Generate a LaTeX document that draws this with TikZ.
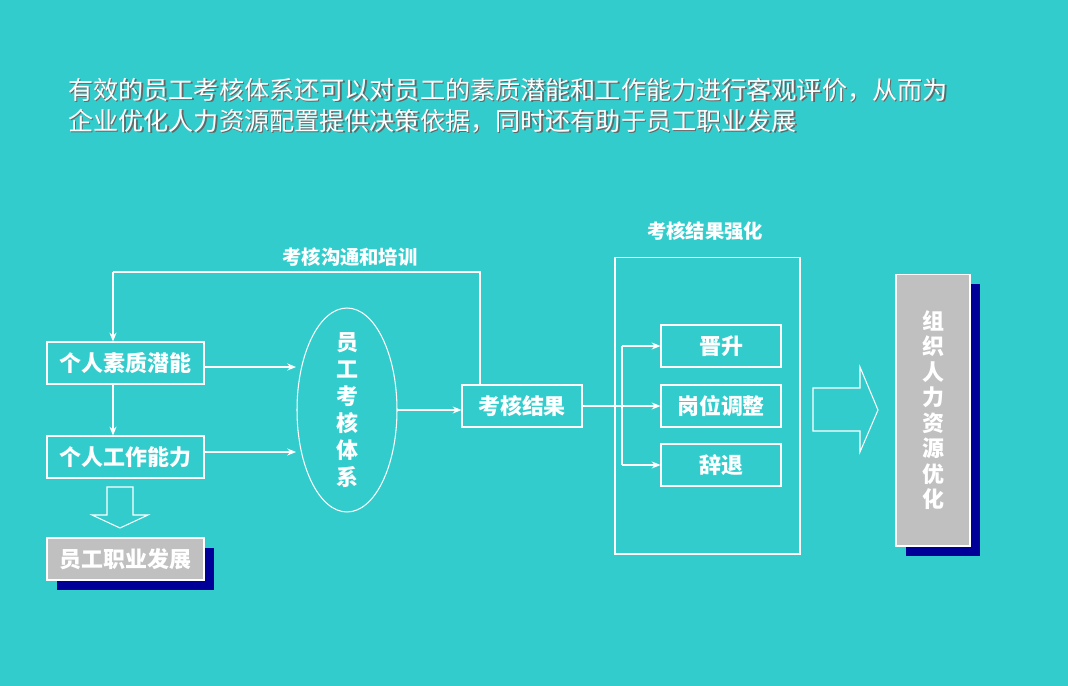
\documentclass[tikz,border=0pt]{standalone}
\usepackage{fontspec}
\usetikzlibrary{shapes.geometric,arrows.meta}
\newfontfamily\cjk{Noto Sans CJK SC}
\definecolor{bg}{HTML}{33CCCC}
\definecolor{shad}{HTML}{000099}
\definecolor{gbox}{HTML}{C0C0C0}
\begin{document}
\begin{tikzpicture}[x=0.02cm,y=-0.02cm,
  wbox/.style={draw=white,line width=0.6pt,minimum height=0.84cm,inner sep=0pt,text=white,font=\cjk\bfseries\fontsize{12.5}{15}\selectfont},
  arr/.style={draw=white,line width=0.6pt,-{Stealth[length=5pt,width=4pt]}},
  ln/.style={draw=white,line width=0.6pt},
  ttl/.style={anchor=west,inner sep=0pt,font=\cjk\fontsize{14.3}{17}\selectfont}]
\fill[bg] (0,0) rectangle (1068,686);
\useasboundingbox (0,0) rectangle (1068,686);
% title
\node[ttl,text=black!60] at (69.5,91.5) {有效的员工考核体系还可以对员工的素质潜能和工作能力进行客观评价，从而为};
\node[ttl,text=black!60] at (69.5,122.5) {企业优化人力资源配置提供决策依据，同时还有助于员工职业发展};
\node[ttl,text=white] (t1) at (68,90) {有效的员工考核体系还可以对员工的素质潜能和工作能力进行客观评价，从而为};
\node[ttl,text=white] (t2) at (68,121) {企业优化人力资源配置提供决策依据，同时还有助于员工职业发展};
% left boxes
\node[wbox,minimum width=3.14cm] (a) at (125.5,363) {个人素质潜能};
\node[wbox,minimum width=3.14cm] (b) at (125.5,457) {个人工作能力};
\fill[shad] (57,548) rectangle (214,590);
\node[wbox,fill=gbox,minimum width=3.14cm] (c) at (125.5,559) {员工职业发展};
% hollow down arrow
\draw[ln] (107,487) -- (133,487) -- (133,515) -- (148,515) -- (120,528) -- (92,515) -- (107,515) -- cycle;
% ellipse
\node[draw=white,line width=0.6pt,ellipse,minimum width=2cm,minimum height=4.08cm,inner sep=0pt] (e) at (347,410) {};
\node[text=white,align=center,font=\cjk\bfseries\fontsize{12.5}{15.3}\selectfont] at (347,410) {员\\工\\考\\核\\体\\系};
% result
\node[wbox,minimum width=2.4cm] (r) at (522,406) {考核结果};
\coordinate (f1) at (480,272);
\coordinate (f2) at (113,272);
\draw[ln] (r.north -| f1) -- (f1) -- (f2);
\draw[arr] (f2) -- (a.north -| f2);
\node[text=white,font=\cjk\bfseries\fontsize{11}{13}\selectfont] at (350,257) {考核沟通和培训};
\draw[arr] (a.south -| f2) -- (b.north -| f2);
\draw[arr] (a.east |- 0,367) -- (296,367);
\draw[arr] (b.east |- 0,452) -- (296,452);
\draw[arr] (397,410) -- (r.west |- 0,410);
% right group
\node[draw=white,line width=0.6pt,minimum width=3.7cm,minimum height=5.94cm,inner sep=0pt] (g) at (707.5,405.5) {};
\node[text=white,font=\cjk\bfseries\fontsize{11}{13}\selectfont] at (705,231) {考核结果强化};
\node[wbox,minimum width=2.4cm] (p1) at (721,346) {晋升};
\node[wbox,minimum width=2.4cm] (p2) at (721,406) {岗位调整};
\node[wbox,minimum width=2.4cm] (p3) at (721,465) {辞退};
\coordinate (br) at (622,406);
\draw[arr] (r.east) -- (p2.west);
\draw[ln] (br |- p1.west) -- (br |- p3.west);
\draw[arr] (br |- p1.west) -- (p1.west);
\draw[arr] (br |- p3.west) -- (p3.west);
% hollow right arrow
\draw[ln] (813,388) -- (860,388) -- (860,367) -- (878,410) -- (860,452) -- (860,431) -- (813,431) -- cycle;
% org box
\fill[shad] (906,284) rectangle (980,556);
\node[draw=white,line width=0.6pt,fill=gbox,minimum width=1.48cm,minimum height=5.44cm,inner sep=0pt] (o) at (933,410) {};
\node[text=white,align=center,font=\cjk\bfseries\fontsize{12.5}{14.5}\selectfont] at (933,410) {组\\织\\人\\力\\资\\源\\优\\化};
\end{tikzpicture}
\end{document}
